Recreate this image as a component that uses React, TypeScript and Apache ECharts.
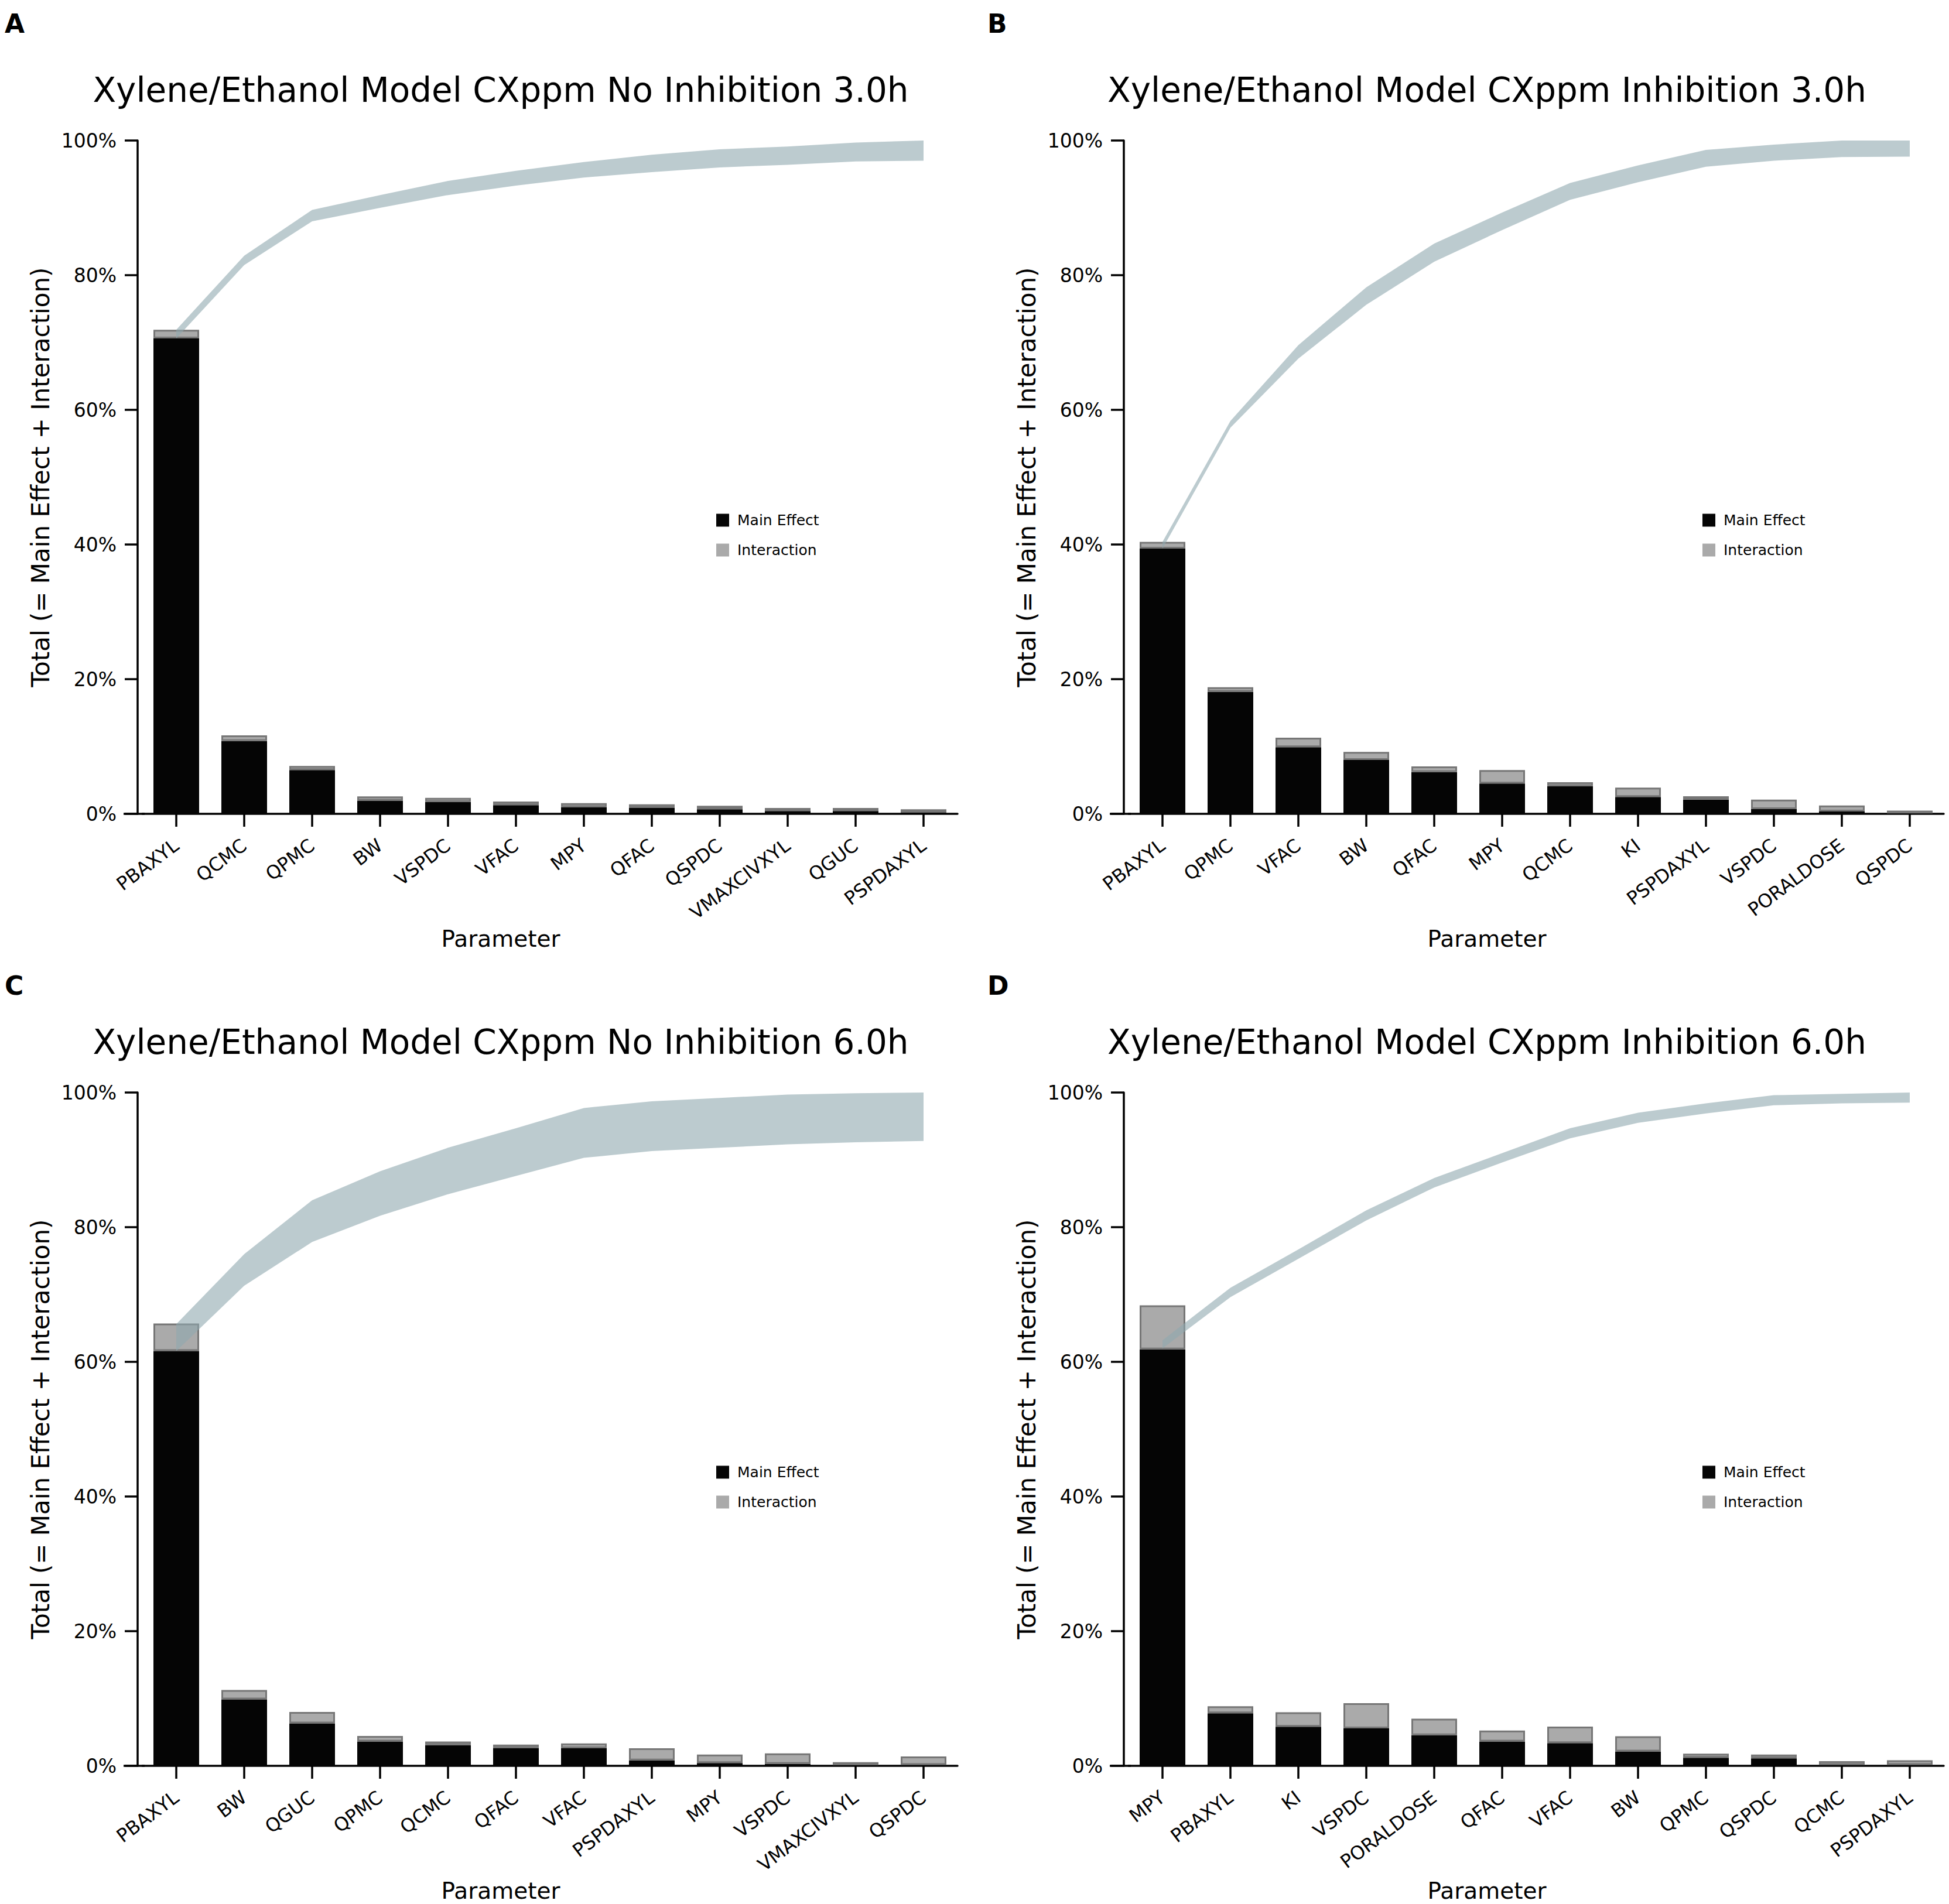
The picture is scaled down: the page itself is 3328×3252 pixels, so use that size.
import React, { useEffect, useRef } from "react";
import * as echarts from "echarts";

// ---------- data ----------
const titleA = "Xylene/Ethanol Model CXppm No Inhibition 3.0h";
const titleB = "Xylene/Ethanol Model CXppm Inhibition 3.0h";
const titleC = "Xylene/Ethanol Model CXppm No Inhibition 6.0h";
const titleD = "Xylene/Ethanol Model CXppm Inhibition 6.0h";

const catsA = ["PBAXYL", "QCMC", "QPMC", "BW", "VSPDC", "VFAC", "MPY", "QFAC", "QSPDC", "VMAXCIVXYL", "QGUC", "PSPDAXYL"];
const mainA = [70.6, 10.8, 6.5, 1.95, 1.77, 1.28, 1.0, 0.87, 0.67, 0.41, 0.41, 0.17];
const interA = [1.3, 0.85, 0.6, 0.63, 0.61, 0.55, 0.59, 0.55, 0.52, 0.46, 0.46, 0.5];
const upperA = [71.9, 82.9, 89.7, 91.9, 94.0, 95.5, 96.8, 97.9, 98.7, 99.1, 99.7, 100];
const lowerA = [70.6, 81.5, 88.0, 90.0, 91.9, 93.3, 94.5, 95.3, 96.0, 96.4, 96.9, 97.0];

const catsB = ["PBAXYL", "QPMC", "VFAC", "BW", "QFAC", "MPY", "QCMC", "KI", "PSPDAXYL", "VSPDC", "PORALDOSE", "QSPDC"];
const mainB = [39.4, 18.1, 9.9, 8.0, 6.2, 4.5, 4.1, 2.5, 2.1, 0.7, 0.35, 0.07];
const interB = [1.0, 0.7, 1.4, 1.2, 0.85, 2.0, 0.6, 1.4, 0.5, 1.4, 0.9, 0.4];
const upperB = [40.4, 58.35, 69.6, 78.2, 84.7, 89.3, 93.7, 96.3, 98.6, 99.4, 100, 100];
const lowerB = [39.4, 57.35, 67.6, 75.6, 82.0, 86.7, 91.2, 93.8, 96.1, 97.0, 97.55, 97.6];

const catsC = ["PBAXYL", "BW", "QGUC", "QPMC", "QCMC", "QFAC", "VFAC", "PSPDAXYL", "MPY", "VSPDC", "VMAXCIVXYL", "QSPDC"];
const mainC = [61.6, 9.86, 6.3, 3.6, 3.06, 2.6, 2.6, 0.8, 0.42, 0.28, 0.1, 0.14];
const interC = [4.1, 1.4, 1.7, 0.84, 0.54, 0.55, 0.73, 1.8, 1.25, 1.57, 0.45, 1.25];
const upperC = [65.6, 76.0, 84.0, 88.3, 91.8, 94.7, 97.7, 98.7, 99.2, 99.7, 99.9, 100];
const lowerC = [61.6, 71.3, 77.8, 81.7, 84.9, 87.6, 90.3, 91.3, 91.8, 92.3, 92.6, 92.8];

const catsD = ["MPY", "PBAXYL", "KI", "VSPDC", "PORALDOSE", "QFAC", "VFAC", "BW", "QPMC", "QSPDC", "QCMC", "PSPDAXYL"];
const mainD = [61.85, 7.8, 5.8, 5.56, 4.54, 3.6, 3.38, 2.13, 1.2, 1.1, 0.14, 0.14];
const interD = [6.55, 1.04, 2.16, 3.74, 2.46, 1.63, 2.45, 2.27, 0.6, 0.57, 0.56, 0.69];
const upperD = [63.2, 71.0, 76.7, 82.5, 87.3, 91.0, 94.7, 97.0, 98.4, 99.6, 99.8, 100];
const lowerD = [62.0, 69.6, 75.3, 81.0, 85.9, 89.6, 93.2, 95.5, 96.9, 98.1, 98.4, 98.5];

const yTicks = [0, 20, 40, 60, 80, 100];
const legendNames = ["Main Effect", "Interaction"];
const xName = "Parameter";
const yName = "Total (= Main Effect + Interaction)";

// ---------- layout ----------
const W = 3328;
const H = 3252;
const FONT = "DejaVu Sans";
const GX = 243;
const GY = 240;
const GW = 1392;
const GH = 1150;
const PDX = 1684;
const PDY = 1626;

const panels = [
  { letter: "A", title: titleA, cats: catsA, main: mainA, inter: interA, upper: upperA, lower: lowerA, dx: 0, dy: 0 },
  { letter: "B", title: titleB, cats: catsB, main: mainB, inter: interB, upper: upperB, lower: lowerB, dx: PDX, dy: 0 },
  { letter: "C", title: titleC, cats: catsC, main: mainC, inter: interC, upper: upperC, lower: lowerC, dx: 0, dy: PDY },
  { letter: "D", title: titleD, cats: catsD, main: mainD, inter: interD, upper: upperD, lower: lowerD, dx: PDX, dy: PDY },
];

const MAIN_COLOR = "#050505";
const INTER_COLOR = "#aaaaaa";
const INTER_BORDER = "#767676";
const BAND_COLOR = "rgba(143,168,175,0.6)";

function buildOption() {
  const grid = panels.map((p) => ({ left: GX + p.dx, top: GY + p.dy, width: GW, height: GH }));

  const xAxis = panels.map((p, i) => ({
    type: "category",
    gridIndex: i,
    data: p.cats,
    axisLine: { show: true, lineStyle: { color: "#000", width: 3.5 } },
    axisTick: { show: true, alignWithLabel: true, length: 22, lineStyle: { color: "#000", width: 3.5 } },
    axisLabel: {
      interval: 0,
      rotate: 37,
      margin: 50,
      color: "#000",
      fontFamily: FONT,
      fontSize: 32,
    },
    splitLine: { show: false },
    name: xName,
    nameLocation: "middle",
    nameGap: 194,
    nameTextStyle: { fontFamily: FONT, fontSize: 39, color: "#000", padding: [0, 168, 0, 0] },
  }));

  const yAxis = panels.map((p, i) => ({
    type: "value",
    gridIndex: i,
    min: yTicks[0],
    max: yTicks[yTicks.length - 1],
    interval: yTicks[1] - yTicks[0],
    offset: 8,
    axisLine: { show: true, lineStyle: { color: "#000", width: 3.5 } },
    axisTick: { show: true, length: 22, lineStyle: { color: "#000", width: 3.5 } },
    axisLabel: { formatter: "{value}%", margin: 36, color: "#000", fontFamily: FONT, fontSize: 33 },
    splitLine: { show: false },
    name: yName,
    nameLocation: "middle",
    nameRotate: 90,
    nameGap: 145,
    nameTextStyle: { fontFamily: FONT, fontSize: 42, color: "#000" },
  }));

  const series: any[] = [];
  panels.forEach((p, i) => {
    series.push({
      type: "bar",
      name: legendNames[0],
      xAxisIndex: i,
      yAxisIndex: i,
      stack: "bar" + i,
      data: p.main,
      barWidth: 78,
      itemStyle: { color: MAIN_COLOR },
      z: 2,
    });
    series.push({
      type: "bar",
      name: legendNames[1],
      xAxisIndex: i,
      yAxisIndex: i,
      stack: "bar" + i,
      data: p.inter,
      barWidth: 78,
      itemStyle: { color: INTER_COLOR, borderColor: INTER_BORDER, borderWidth: 3 },
      z: 2,
    });
    series.push({
      type: "line",
      name: "band-lower-" + i,
      xAxisIndex: i,
      yAxisIndex: i,
      stack: "band" + i,
      data: p.lower,
      symbol: "none",
      showSymbol: false,
      lineStyle: { width: 0, opacity: 0 },
      silent: true,
      z: 5,
    });
    series.push({
      type: "line",
      name: "band-" + i,
      xAxisIndex: i,
      yAxisIndex: i,
      stack: "band" + i,
      data: p.upper.map((u, k) => +(u - p.lower[k]).toFixed(3)),
      symbol: "none",
      showSymbol: false,
      lineStyle: { width: 0, opacity: 0 },
      areaStyle: { color: BAND_COLOR, opacity: 1 },
      silent: true,
      z: 5,
    });
  });

  const legend = panels.map((p) => ({
    orient: "vertical",
    left: 1223 + p.dx,
    top: 876 + p.dy,
    padding: 0,
    icon: "rect",
    itemWidth: 22,
    itemHeight: 22,
    itemGap: 26,
    selectedMode: false,
    textStyle: { fontFamily: FONT, fontSize: 25, color: "#000", padding: [0, 0, 0, 9] },
    data: [
      { name: legendNames[0], itemStyle: { color: MAIN_COLOR, borderWidth: 0 } },
      { name: legendNames[1], itemStyle: { color: INTER_COLOR, borderWidth: 0 } },
    ],
  }));

  const graphic: any[] = [];
  panels.forEach((p) => {
    graphic.push({
      type: "text",
      x: 855 + p.dx,
      y: 154 + p.dy,
      style: {
        text: p.title,
        font: `58px "${FONT}"`,
        fill: "#000",
        align: "center",
        verticalAlign: "middle",
        textAlign: "center",
        textVerticalAlign: "middle",
      },
    });
    graphic.push({
      type: "text",
      x: 8 + (p.dx ? p.dx - 6 : 0),
      y: 18 + (p.dy ? p.dy + 17 : 0),
      style: {
        text: p.letter,
        font: `bold 44px "${FONT}"`,
        fill: "#000",
        align: "left",
        verticalAlign: "top",
        textAlign: "left",
        textVerticalAlign: "top",
      },
    });
    graphic.push({
      type: "line",
      shape: { x1: 211 + p.dx, y1: GY + GH + p.dy, x2: GX + 4 + p.dx, y2: GY + GH + p.dy },
      style: { stroke: "#000", lineWidth: 3.5 },
      z: 10,
    });
  });

  return {
    animation: false,
    backgroundColor: "#fff",
    tooltip: { show: false },
    grid,
    xAxis,
    yAxis,
    legend,
    series,
    graphic,
  };
}

export default function App() {
  const ref = useRef<HTMLDivElement | null>(null);
  useEffect(() => {
    document.body.style.margin = "0";
    if (!ref.current) return;
    const chart = echarts.init(ref.current, null, { renderer: "svg", width: W, height: H });
    chart.setOption(buildOption() as any);
    return () => {
      chart.dispose();
    };
  }, []);
  return <div ref={ref} style={{ width: W, height: H, background: "#fff" }} />;
}
